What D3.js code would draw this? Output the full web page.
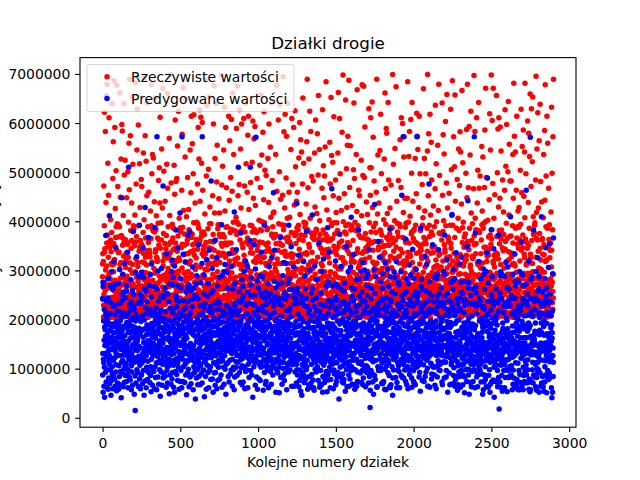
<!DOCTYPE html>
<html>
<head>
<meta charset="utf-8">
<title>Działki drogie</title>
<script src="https://cdnjs.cloudflare.com/ajax/libs/d3/7.8.5/d3.min.js"></script>
<style>
  body { margin: 0; background: #fff; }
  text { font-family: "DejaVu Sans", sans-serif; fill: #000; }
</style>
</head>
<body>
<script>
// prices in tens of thousands of zł, one entry per plot (index = plot number)
var actual = [
287,313,334,241,266,318,205,229,472,251,203,391,622,337,276,344,218,259,583,226,301,207,438,269,655,
224,309,356,211,679,243,372,285,202,518,231,264,327,348,453,209,292,611,236,271,215,358,347,222,283,
233,362,403,217,296,338,314,245,204,377,268,228,639,352,311,219,487,274,240,562,206,297,355,231,686,
258,314,322,247,591,280,235,426,210,269,367,222,503,389,243,342,201,677,254,230,395,216,261,471,368,
245,393,208,336,275,225,337,260,219,389,302,238,661,312,284,449,229,254,316,527,203,371,270,242,597,
212,367,584,233,351,291,205,248,412,273,226,329,639,357,218,494,239,284,363,211,524,246,306,223,362,
276,321,335,260,209,448,288,242,326,231,353,271,214,501,356,327,237,398,282,206,559,249,464,227,689,
239,302,315,268,574,226,381,251,208,345,279,232,437,361,217,653,294,244,312,220,516,272,205,379,391,
221,384,357,237,203,350,266,214,413,249,297,229,682,358,324,211,476,243,286,369,234,545,207,265,628,
264,316,308,278,235,596,241,391,256,220,339,270,203,517,347,285,428,228,361,259,212,343,292,238,485,
205,353,471,231,289,212,317,268,243,348,221,377,296,539,334,262,209,403,281,226,692,315,250,218,574,
248,327,366,295,210,522,256,238,311,273,452,216,641,340,283,227,389,204,332,264,357,231,459,257,213,
293,341,207,334,262,328,219,276,421,232,248,365,209,678,391,255,226,497,317,243,215,536,280,384,239,
218,380,529,249,233,304,267,211,440,256,378,225,294,651,337,263,342,208,383,272,221,411,248,327,204,
271,323,318,209,366,257,241,396,275,229,483,214,351,362,238,509,288,202,437,253,612,226,345,279,232,
236,397,214,362,252,547,227,283,205,427,266,240,671,319,309,258,234,375,211,502,290,245,333,262,328,
209,355,441,286,231,329,216,344,264,243,371,208,278,516,325,295,253,660,239,467,218,304,389,270,213,
283,330,353,205,569,267,246,412,212,291,336,236,699,358,222,283,478,241,319,207,358,275,250,394,226,
227,312,366,249,342,215,386,293,233,207,514,269,344,320,455,245,281,606,212,356,253,238,481,296,263,
256,318,487,273,236,339,204,553,261,228,370,289,213,624,347,299,325,219,406,268,232,320,241,379,210,
244,387,213,379,258,224,346,271,239,463,210,305,577,353,226,388,282,205,672,237,264,422,217,332,295,
215,351,374,230,293,207,531,266,242,317,220,649,278,334,409,201,286,354,257,228,362,247,489,222,270,
298,334,206,424,260,222,383,248,313,211,379,284,240,545,319,266,338,227,458,292,204,614,255,367,231,
232,374,558,217,245,352,288,210,497,263,226,397,617,341,219,331,276,208,354,251,437,229,302,270,214,
267,311,325,246,363,233,398,279,216,252,476,238,343,394,207,591,260,222,386,244,527,285,213,354,627,
211,362,441,236,283,307,224,612,255,240,369,209,518,377,231,334,601,247,219,463,290,256,207,378,342,
250,329,349,268,205,373,241,285,415,218,302,262,687,334,253,357,225,492,271,204,636,246,320,280,237,
228,301,312,385,257,239,506,274,226,346,217,653,263,395,239,429,208,359,252,314,282,221,395,241,214,
281,344,313,220,267,328,235,209,452,292,249,373,204,598,358,236,676,227,341,271,218,417,256,528,230,
239,317,362,286,229,640,253,312,206,480,265,234,555,321,297,249,385,214,393,277,243,336,208,446,262,
206,373,417,245,316,262,226,369,238,393,281,213,331,355,697,230,268,474,216,349,289,240,512,224,373,
262,335,297,208,545,272,249,368,221,632,284,228,421,356,203,327,591,243,276,388,231,205,468,267,352,
247,389,215,333,266,203,302,239,278,356,224,614,252,311,443,293,237,319,564,259,218,377,284,233,489,
219,356,384,231,607,247,295,212,461,270,226,342,661,335,283,209,398,257,536,222,311,271,244,381,253,
274,322,337,265,214,319,286,239,408,227,256,589,205,373,398,248,217,675,262,325,231,452,276,210,394,
233,378,201,475,249,312,627,260,218,362,289,235,547,312,263,427,241,303,204,598,271,226,354,253,383,
290,312,346,238,274,223,389,256,609,207,331,283,247,472,320,265,378,234,641,251,216,309,287,517,244,
225,358,313,283,201,459,242,366,220,575,269,238,301,614,353,211,424,279,230,358,355,247,288,204,392,
257,336,479,219,297,346,228,351,263,210,391,245,520,378,231,335,204,604,257,282,447,223,318,266,568,
208,384,361,251,229,593,270,214,432,242,316,262,689,325,248,377,291,236,487,207,341,259,350,228,276,
269,326,287,212,329,255,402,237,273,209,358,514,244,383,216,469,232,317,657,264,241,381,206,292,535,
242,399,224,357,263,218,581,234,327,282,207,444,254,623,327,269,397,213,295,504,246,338,223,271,314,
216,352,493,277,235,310,260,209,383,244,386,291,222,528,356,236,345,211,438,283,598,249,307,265,230,
284,339,318,223,551,267,215,408,249,295,235,641,205,374,371,226,483,258,332,213,389,242,417,287,203,
231,366,419,256,202,368,282,247,312,219,303,262,238,536,373,210,354,297,677,228,251,461,220,323,276,
253,314,277,341,247,606,225,289,395,233,268,209,501,356,242,637,281,217,369,235,445,262,352,209,314,
209,393,337,236,276,227,351,211,453,264,249,694,220,315,383,238,582,205,392,270,257,427,226,339,618,
278,330,366,254,218,488,271,242,573,206,329,286,222,406,359,640,233,302,247,368,212,331,293,238,459,
235,359,204,408,283,245,356,227,314,261,213,546,272,334,377,249,218,609,288,326,241,475,207,296,264,
261,315,332,269,591,238,296,220,433,252,207,371,625,376,241,289,511,226,355,213,373,266,441,234,303,
224,387,459,241,211,318,257,383,230,276,392,218,529,363,247,343,205,601,281,236,414,254,327,219,566,
295,332,214,372,266,541,227,305,250,208,476,283,238,651,319,361,272,245,518,211,398,256,229,334,289,
246,371,388,217,302,228,396,259,242,435,204,336,277,562,333,214,689,251,295,383,223,468,265,239,311,
213,353,527,280,236,347,221,624,269,208,406,245,299,317,583,262,230,376,249,204,491,285,337,226,367,
268,319,304,247,482,232,285,210,371,254,363,227,243,539,376,216,429,292,237,317,606,258,205,384,241,
237,382,208,416,261,249,578,223,327,271,212,494,240,656,364,229,352,283,201,546,246,401,219,298,373,
282,346,361,229,205,314,268,239,343,285,252,467,217,309,627,335,273,221,382,258,513,207,289,448,232,
220,363,492,238,297,214,551,276,226,374,258,204,684,342,331,267,219,423,252,369,286,233,360,211,277,
251,327,339,272,343,218,403,244,288,209,315,561,236,361,476,223,297,248,208,652,269,391,230,534,256,
207,396,256,365,223,520,281,242,452,213,276,338,613,349,229,397,263,216,374,293,241,309,211,484,268,
289,341,418,206,269,332,231,397,255,224,381,272,216,539,347,303,662,238,285,212,447,260,356,226,609,
230,373,214,497,252,236,326,267,303,219,422,284,245,360,308,581,258,231,326,276,212,698,243,399,269,
265,318,347,283,206,456,240,378,262,229,315,251,213,647,391,238,374,221,507,269,247,428,207,341,555,
241,357,573,229,278,217,394,265,233,687,209,334,288,351,469,224,302,269,554,213,246,382,283,237,317,
214,391,326,246,387,272,223,432,259,208,361,296,237,505,318,274,641,252,229,317,487,205,263,398,244,
279,334,206,381,263,224,536,248,291,216,420,275,668,336,212,344,259,283,391,227,305,251,463,220,372,
255,310,452,268,241,309,232,317,277,205,367,248,286,524,321,264,411,244,210,678,289,335,258,229,493,
227,366,338,219,675,254,283,209,489,237,316,262,592,323,245,375,271,205,346,292,232,439,256,218,364,
292,339,225,414,257,363,212,298,351,236,271,204,629,361,244,397,218,327,283,509,230,266,453,212,611,
236,378,509,245,214,356,269,229,643,252,206,428,287,317,341,571,223,264,389,208,297,482,255,234,359,
260,313,312,289,237,396,224,377,250,211,459,268,240,689,315,301,276,226,415,259,535,248,209,342,282,
217,348,437,263,226,327,296,207,544,241,382,254,221,618,379,235,359,213,497,266,243,372,228,304,271,
285,331,210,348,274,321,246,263,403,229,212,527,289,350,336,204,661,272,238,466,219,394,257,311,589,
249,367,579,218,296,239,416,206,351,277,243,642,226,362,484,213,319,288,351,234,208,374,264,427,230,
211,388,329,255,232,474,271,224,305,249,305,213,387,366,239,699,220,282,356,247,516,209,339,273,258,
273,324,257,401,240,548,218,291,362,233,262,206,674,347,325,279,216,441,253,396,228,289,378,242,212,
232,369,483,237,207,315,281,250,329,216,394,262,235,566,389,223,343,258,208,469,275,611,230,301,264,
258,315,336,274,599,226,367,240,206,418,285,252,531,319,572,263,234,309,211,447,294,245,388,270,357,
203,396,268,362,249,317,230,276,212,447,259,327,684,337,281,221,398,255,202,532,272,244,356,217,583,
267,336,410,221,286,329,213,607,262,245,374,209,498,378,231,642,253,316,270,225,441,296,241,365,226,
244,381,219,384,265,223,359,247,304,233,528,272,214,392,357,281,211,456,240,335,620,264,227,573,290,
225,354,546,239,291,208,352,267,428,215,250,614,283,337,313,206,497,260,229,381,276,346,218,341,252,
286,328,324,271,210,475,249,392,235,263,407,220,296,670,354,211,367,243,280,528,231,255,421,206,307,
238,363,213,497,246,354,272,227,325,258,211,386,285,339,543,699,221,318,267,452,249,211,578,290,234,
219,392,369,230,258,618,241,287,203,413,265,335,232,561,378,217,484,253,227,347,296,246,372,214,269,
271,336,431,253,215,306,277,232,389,222,348,261,245,466,308,636,289,254,321,239,517,212,399,262,281,
249,310,285,341,264,555,229,298,218,422,270,246,679,331,376,257,206,493,283,240,334,265,304,219,252,
206,374,307,245,288,227,362,211,641,262,236,453,251,319,379,576,214,244,401,226,289,537,258,352,233,
280,343,337,261,219,603,235,391,270,252,214,478,293,326,658,247,305,209,427,274,238,368,218,365,263,
234,359,212,457,281,246,328,222,311,266,207,392,240,628,355,283,345,217,505,231,269,412,296,248,686,
262,319,392,236,297,268,214,572,251,229,335,284,242,511,307,367,657,265,221,441,257,302,236,313,278,
218,386,247,328,209,485,263,240,318,275,226,406,254,311,547,292,233,381,268,249,473,215,329,582,244,
293,332,541,254,238,311,279,205,435,246,268,666,222,357,387,236,519,210,264,398,242,309,279,226,347,
247,368,317,213,352,259,228,374,292,241,209,498,266,321,331,587,276,217,448,255,239,679,286,359,212,
213,351,468,277,233,342,218,593,263,289,386,224,250,535,306,311,274,243,624,229,417,261,298,237,361,
275,329,208,395,255,324,281,244,327,212,466,259,233,697,370,218,352,291,246,583,224,406,265,213,334,
240,383,355,222,264,611,235,271,219,437,248,316,287,504,312,264,381,229,642,256,291,467,238,205,377,
258,314,492,268,241,305,226,334,251,210,362,277,234,552,393,243,421,219,315,267,531,208,284,386,241,
224,396,261,347,209,469,284,235,586,255,228,399,210,671,347,272,337,223,489,262,236,318,279,329,253,
287,337,402,216,275,331,249,368,229,262,211,444,283,344,619,235,296,372,213,545,268,226,353,257,698,
231,364,219,383,250,605,238,290,223,477,257,318,671,314,281,245,406,228,331,266,307,210,454,285,239,
263,326,326,248,213,336,271,241,656,219,369,294,253,499,333,268,204,588,247,323,275,429,221,611,256,
216,381,354,261,237,447,226,592,279,250,312,207,543,364,229,382,293,241,374,218,346,256,484,234,271,
252,340,207,419,266,373,233,305,251,218,463,286,227,627,343,359,275,212,512,259,234,396,268,597,289,
277,319,365,236,292,226,501,257,214,644,271,338,245,413,322,557,282,239,369,208,482,263,292,227,336,
239,370,482,252,205,328,264,229,312,287,243,391,218,536,356,276,447,233,204,681,261,314,247,573,225,
265,333,309,277,541,220,386,259,241,205,463,296,228,614,366,251,353,217,389,282,236,421,254,209,345,
208,388,231,428,261,236,363,247,319,273,215,504,242,394,356,227,628,289,341,214,458,269,233,552,283,
284,346,372,221,267,586,239,294,209,451,255,333,268,541,326,407,681,245,218,364,290,256,497,237,311,
228,357,314,243,279,218,345,266,604,233,294,210,438,351,275,579,223,262,386,211,532,287,248,316,659,
254,325,333,286,207,471,245,629,263,221,361,276,239,521,314,297,653,252,230,409,268,373,244,297,217,
220,376,256,392,242,397,231,283,217,484,253,327,695,366,234,418,285,209,547,272,241,362,258,621,236,
283,339,427,213,271,305,251,564,224,263,375,212,292,638,345,228,481,269,321,237,302,255,214,439,278,
243,362,205,365,255,333,229,284,246,407,211,536,273,352,332,296,213,585,259,443,226,678,263,318,247,
215,389,492,234,266,321,218,614,271,242,386,205,559,387,236,347,254,225,467,212,363,279,247,393,260,
272,326,341,259,237,356,283,212,419,249,268,307,632,341,215,498,276,234,383,257,221,572,292,244,689
];
var predicted = [
243,87,131,276,52,268,119,197,112,64,158,221,103,42,185,147,131,179,92,166,209,371,128,73,238,
189,214,62,157,146,203,98,132,171,124,244,58,194,283,137,81,116,162,109,411,126,69,152,191,178,
97,212,268,234,46,139,183,76,297,121,155,164,104,89,142,261,59,191,227,116,173,84,318,149,138,
228,155,79,186,122,271,64,209,141,347,93,174,132,108,196,55,154,163,127,187,217,71,149,193,182,
232,164,273,58,217,106,189,145,84,151,302,127,67,233,169,198,94,176,139,206,41,162,113,448,251,
176,91,238,145,117,292,183,63,214,128,156,157,99,256,187,72,129,136,167,314,105,86,111,244,153,
206,137,102,269,258,74,194,147,129,88,182,337,125,61,211,174,156,96,510,191,118,140,83,173,229,
218,133,161,77,198,141,281,109,175,236,57,106,187,131,93,124,164,259,66,148,203,379,115,184,147,
251,174,227,221,48,185,113,162,152,85,15,197,138,295,211,71,166,122,143,179,328,98,154,116,137,
159,92,173,234,203,167,63,125,118,287,182,145,392,79,113,107,251,171,142,59,233,196,124,118,88,
87,296,247,242,112,179,178,69,208,131,345,164,96,119,286,153,117,46,199,137,142,262,75,181,428,
224,142,181,97,258,126,61,213,169,102,103,189,236,149,78,171,157,115,211,184,367,92,133,145,175,
269,153,216,188,72,221,154,291,138,86,104,172,53,246,119,313,192,101,163,134,179,66,147,208,127,
213,187,129,151,267,94,176,133,215,59,148,143,387,104,198,162,82,169,127,224,175,138,112,57,193,
572,262,207,141,178,124,83,299,193,146,237,68,186,112,132,211,157,98,152,171,116,44,203,184,144,
248,219,93,168,304,139,201,118,66,157,183,109,129,152,472,81,196,245,126,173,89,178,114,137,162,
201,128,264,85,253,216,177,111,191,62,189,143,334,106,96,162,131,119,71,187,252,141,159,164,105,
236,142,174,119,49,198,138,273,161,223,87,179,112,153,144,68,116,186,298,129,157,321,79,132,191,
92,271,213,147,286,107,184,62,141,131,197,163,52,309,223,118,171,174,94,142,206,382,154,115,248,
155,239,88,226,163,121,345,192,76,112,151,268,103,179,237,135,188,58,167,201,121,182,126,417,74,
283,214,147,172,96,264,153,209,131,61,182,572,186,128,119,147,74,238,172,333,104,194,156,161,137,
221,208,158,72,136,181,109,317,147,224,87,169,256,131,199,47,116,162,182,114,236,91,185,371,145,
237,264,99,193,128,271,63,207,176,142,378,118,143,83,182,214,151,197,136,69,259,174,121,127,189,
172,88,226,241,307,117,192,136,57,169,263,147,104,119,124,179,92,248,137,101,166,112,38,179,194,
246,117,273,249,81,156,289,128,203,98,184,131,67,167,242,118,352,196,153,84,112,176,141,188,105,
209,131,67,185,228,162,107,275,149,191,89,136,178,123,314,71,572,213,157,154,132,96,198,167,197,
97,252,291,224,167,43,114,182,232,114,196,152,84,203,171,162,139,58,188,322,121,128,159,107,143,
188,247,139,92,273,158,126,196,61,218,143,341,177,146,97,189,136,171,104,163,227,78,154,482,122,
254,168,213,217,142,304,79,185,129,259,197,52,133,148,173,112,186,202,91,141,168,133,361,187,66,
233,92,198,168,151,126,221,174,108,326,59,187,148,114,269,132,76,199,156,237,103,196,179,143,117,
221,286,143,79,232,192,171,114,164,206,134,148,87,178,153,393,122,127,62,289,159,195,116,144,168,
217,141,174,208,103,156,68,297,183,142,126,169,312,99,211,137,156,184,48,163,228,109,176,147,193,
296,228,263,149,187,136,112,173,84,151,157,201,138,179,73,222,164,334,191,117,146,89,154,213,139,
164,218,97,182,308,131,207,151,144,64,188,119,262,171,137,197,98,103,143,232,177,57,419,158,151,
83,273,227,216,158,274,193,136,114,103,342,181,147,128,86,163,167,127,209,178,113,153,154,510,195,
238,154,186,257,127,92,219,164,189,141,192,72,235,118,376,197,152,143,102,172,281,134,67,106,162,
242,267,121,206,73,179,248,102,163,127,124,298,182,146,104,59,141,168,132,319,94,189,228,153,173,
184,97,232,163,212,141,308,172,125,61,256,193,109,121,161,184,137,82,198,233,144,173,361,118,115,
510,203,248,96,271,285,133,126,158,87,143,136,179,164,117,198,42,231,153,196,124,214,171,104,352,
162,229,187,138,249,112,174,66,303,192,157,571,118,126,141,83,169,207,139,279,186,58,136,148,197,
219,148,264,204,163,79,222,147,191,146,108,181,289,152,76,113,128,254,167,103,337,194,143,129,178,
247,191,106,172,227,138,287,162,56,216,141,163,184,119,174,392,92,197,131,157,116,244,178,68,105,
256,74,214,231,182,166,113,198,233,148,187,97,122,152,273,131,104,61,247,164,309,128,191,117,137,
203,163,137,253,94,172,209,121,186,167,68,238,141,326,184,103,158,176,148,112,87,183,236,144,458,
227,132,278,102,214,152,341,186,135,247,112,197,161,264,52,119,149,181,133,201,173,96,141,163,118,
166,244,91,189,236,173,118,272,154,103,128,51,231,177,143,196,112,188,367,114,139,82,208,167,146,
274,207,158,229,68,137,194,243,101,171,289,142,113,86,184,127,156,316,123,76,254,181,146,136,193,
91,163,241,147,193,314,127,176,218,57,102,156,248,132,199,109,274,167,127,144,93,186,392,112,138,
218,127,282,261,142,97,223,191,134,176,162,206,119,348,173,139,64,151,108,126,261,188,113,174,141,
151,246,109,173,307,188,149,64,232,117,183,257,146,93,119,168,185,131,196,243,152,71,127,109,436,
98,232,127,87,264,254,173,118,212,146,331,186,63,139,157,201,126,76,168,97,123,142,189,161,54,
236,171,159,203,121,83,46,247,138,92,176,109,107,167,233,88,196,152,318,124,181,136,72,113,165,
227,103,288,142,262,79,114,171,131,243,98,379,157,104,139,83,117,193,226,58,172,149,136,183,67,
212,186,143,164,132,219,301,147,84,197,134,161,127,62,182,71,208,143,254,109,88,137,124,413,154,
263,239,128,77,208,152,184,61,118,173,56,226,196,144,309,167,132,99,176,113,138,282,162,121,93,
244,218,197,132,163,281,104,159,96,137,187,148,76,204,128,171,356,148,139,193,117,62,217,154,68,
231,208,254,96,141,178,126,113,67,298,142,186,131,118,167,52,147,84,202,136,323,174,107,228,82,
206,147,72,183,113,229,159,86,148,171,124,203,152,267,94,184,119,129,53,141,162,193,387,139,77,
88,276,212,238,154,121,192,337,162,224,103,147,178,136,61,113,144,78,188,119,157,238,173,96,466,
233,162,109,191,148,268,173,204,122,59,131,186,141,97,164,207,89,152,133,182,224,112,168,319,67,
272,246,137,219,74,164,239,112,83,156,197,128,212,92,178,143,153,131,266,196,38,121,147,374,88,
227,191,156,103,213,168,136,308,177,82,128,153,261,142,199,117,234,73,144,89,106,201,158,147,71,
214,134,78,236,257,193,274,129,166,219,143,54,143,187,123,112,348,162,98,227,178,136,63,194,151,
156,223,187,149,297,106,172,231,87,203,64,138,181,114,152,167,79,219,146,191,307,126,96,169,408,
241,104,264,212,131,247,68,184,151,126,178,117,332,196,146,238,99,173,67,131,262,187,58,118,153,
97,158,196,227,183,142,281,216,119,64,136,168,204,152,74,93,188,144,228,171,113,382,157,111,139,
283,247,229,172,112,204,157,143,91,189,131,298,166,127,72,114,137,256,181,108,96,239,149,316,67,
236,212,81,193,158,127,176,219,143,301,188,102,237,154,97,121,63,148,173,284,139,106,161,92,129,
227,268,137,249,103,181,292,149,213,71,166,132,126,191,342,157,84,121,176,133,21,56,198,119,87,
159,96,216,242,187,263,121,174,132,138,204,89,73,162,114,223,178,48,199,141,149,302,131,86,434,
204,253,148,78,221,167,134,287,193,117,146,176,151,212,62,197,63,139,168,231,104,185,359,147,96,
221,187,234,166,143,209,98,156,128,182,327,143,119,96,277,164,101,131,242,153,186,71,111,69,174,
263,239,293,118,71,152,222,74,187,139,116,168,206,147,58,183,99,316,142,194,229,127,57,148,171,
244,217,106,148,176,131,199,163,303,92,118,189,141,267,112,227,157,203,86,174,63,198,137,384,61,
287,158,241,193,67,236,147,211,128,256,173,104,133,162,199,46,81,136,218,154,119,97,182,143,297,
207,126,169,137,286,118,193,252,161,213,82,178,127,124,318,191,146,61,72,209,158,136,173,112,97,
232,276,228,106,153,271,94,183,221,143,61,147,169,196,112,139,177,134,297,118,152,86,226,161,453,
248,203,82,169,238,132,192,119,572,126,157,81,108,174,213,137,253,162,97,187,143,129,364,206,74,
219,117,256,283,146,213,67,154,98,231,186,127,104,168,59,149,193,141,273,116,176,229,143,311,88,
163,241,147,98,202,178,124,291,168,116,142,233,81,197,62,152,118,227,184,343,133,107,163,249,74,
96,284,228,157,71,212,206,162,141,136,189,67,257,171,113,129,302,148,126,193,103,236,572,182,154,
246,139,173,213,121,254,189,107,124,167,83,143,196,232,92,178,146,161,54,113,137,386,197,124,267,
282,223,216,192,143,158,76,137,142,202,129,261,176,108,229,153,194,74,121,168,147,146,213,329,84,
234,171,258,139,208,93,182,129,164,312,117,186,143,152,101,64,238,172,138,64,191,123,219,157,476,
213,254,147,277,62,221,152,164,128,197,136,111,183,217,147,79,168,89,248,133,106,176,352,192,141,
162,218,236,103,142,286,168,193,87,144,172,131,66,158,104,221,183,139,146,197,59,127,161,284,213,
238,292,83,157,226,131,249,116,107,173,342,148,114,97,188,253,137,172,128,163,96,109,186,142,234,
204,136,181,264,134,196,158,73,228,143,67,182,126,203,147,164,113,298,179,114,146,234,81,372,167,
291,248,223,127,182,147,113,209,161,83,96,124,168,142,321,196,131,127,186,52,253,172,137,219,158,
152,207,164,238,91,171,216,143,67,184,122,139,157,194,68,276,142,108,164,113,234,189,414,151,146,
226,133,261,278,153,302,127,86,219,102,71,146,139,283,208,64,118,127,192,147,78,163,174,336,138,
217,84,197,128,243,168,114,56,232,151,106,129,67,176,148,141,93,199,223,156,313,84,132,152,169,
243,62,109,218,276,136,256,96,142,327,184,107,121,163,253,123,87,67,239,172,108,144,181,119,193,
178,214,51,83,229,192,128,241,167,277,114,98,136,149,183,162,141,74,348,176,99,128,157,196,442,
232,149,87,264,276,117,203,48,98,233,174,116,137,191,158,72,249,187,131,109,167,63,121,138,182,
207,94,231,142,191,262,151,74,119,108,187,163,234,124,98,572,179,146,144,61,113,152,376,188,137,
266,227,138,254,117,83,212,157,144,91,136,63,168,171,109,129,231,88,143,318,162,101,126,197,156,
244,158,96,109,238,147,283,122,73,116,158,137,89,202,163,174,114,191,226,48,184,144,131,57,303,
226,292,153,73,146,221,87,197,261,133,104,78,116,149,187,142,298,63,207,124,336,176,131,152,488,
197,237,211,141,62,118,274,153,86,128,143,164,171,98,237,191,52,113,68,156,182,127,219,164,383,
251,246,73,128,203,287,142,118,74,192,148,134,77,229,118,344,161,103,42,171,113,194,237,178,106,
232,74,118,199,262,153,208,131,141,73,107,126,189,147,96,63,234,168,153,139,82,217,372,126,161,
18,216,242,136,73,254,119,289,124,62,297,138,107,152,172,113,86,243,127,119,54,176,162,193,148,
182,227,161,58,214,96,143,177,134,288,61,108,149,233,82,117,151,171,316,147,203,98,138,163,118,
264,198,53,227,118,181,307,146,96,237,167,82,119,143,261,84,132,172,159,104,228,126,83,409,153,
243,132,87,106,249,163,211,136,173,57,123,187,126,292,68,97,136,212,148,81,157,138,334,174,126,
217,61,243,278,139,268,112,204,69,131,64,193,147,153,78,182,134,219,166,143,111,201,57,278,186,
228,153,96,142,213,176,298,57,88,136,182,142,163,219,72,121,147,187,358,143,229,64,196,132,152,
291,243,126,269,57,103,234,86,147,163,207,129,181,74,238,152,93,116,189,163,138,272,71,108,463,
236,87,132,208,163,252,141,176,98,118,227,72,146,137,193,319,58,131,182,79,143,164,211,53,188,
571,212,57,243,282,128,166,149,216,73,287,136,131,98,154,148,113,206,71,163,147,382,87,129,162,
158,169,83,237,221,176,151,109,193,244,63,112,134,297,172,127,56,82,239,101,148,257,92,326,113,
214,146,238,97,123,262,287,52,131,169,204,178,142,91,146,118,213,64,152,137,193,231,409,71,136,
173,227,142,256,84,211,136,193,63,147,117,186,229,54,168,197,142,237,73,104,283,152,116,87,346,
247,263,208,127,264,51,129,192,138,171,83,214,96,148,167,232,143,306,78,119,156,163,91,137,354,
237,114,252,82,147,236,172,183,119,207,156,61,127,189,41,162,173,218,52,293,126,142,84,113,366
];
var UNIT = 10000;
var seriesNames = ["Rzeczywiste wartości", "Predygowane wartości"];
var seriesColors = ["#ff0000", "#0000ff"];
var xTicks = [0, 500, 1000, 1500, 2000, 2500, 3000];
var yTicks = [0, 1000000, 2000000, 3000000, 4000000, 5000000, 6000000, 7000000];

var W = 640, H = 480;
// axes box (matplotlib default subplot position)
var axL = 80, axR = 576, axT = 57.6, axB = 427.2;

var svg = d3.select("body").append("svg")
    .attr("width", W)
    .attr("height", H)
    .style("display", "block");
svg.append("rect").attr("width", W).attr("height", H).attr("fill", "#fff");

var series = [actual, predicted].map(function(vals, k) {
  return vals.map(function(v, i) { return {x: i, y: v * UNIT, k: k}; });
});
var all = series[0].concat(series[1]);

// matplotlib-style 5% margins
function padded(ext) {
  var d = (ext[1] - ext[0]) * 0.05;
  return [ext[0] - d, ext[1] + d];
}
var x = d3.scaleLinear()
    .domain(padded(d3.extent(all, function(d) { return d.x; })))
    .range([axL, axR]);
var y = d3.scaleLinear()
    .domain(padded(d3.extent(all, function(d) { return d.y; })))
    .range([axB, axT]);

svg.append("clipPath").attr("id", "plot-area")
  .append("rect")
    .attr("x", axL).attr("y", axT)
    .attr("width", axR - axL).attr("height", axB - axT);

var dots = svg.append("g").attr("clip-path", "url(#plot-area)");
series.forEach(function(pts, k) {
  dots.append("g")
    .attr("fill", seriesColors[k])
    .selectAll("circle")
    .data(pts)
    .enter().append("circle")
      .attr("cx", function(d) { return x(d.x); })
      .attr("cy", function(d) { return y(d.y); })
      .attr("r", 2.75);
});

var fmt = d3.format("d");
var xAxis = svg.append("g")
    .attr("transform", "translate(0," + axB + ")")
    .call(d3.axisBottom(x).tickValues(xTicks).tickFormat(fmt).tickSize(4.86).tickPadding(4.86));
var yAxis = svg.append("g")
    .attr("transform", "translate(" + axL + ",0)")
    .call(d3.axisLeft(y).tickValues(yTicks).tickFormat(fmt).tickSize(4.86).tickPadding(4.86));

[xAxis, yAxis].forEach(function(g) {
  g.select(".domain").remove();
  g.selectAll(".tick line").attr("stroke", "#000").attr("stroke-width", 1.1);
  g.selectAll(".tick text")
    .attr("fill", "#000")
    .style("font-family", "'DejaVu Sans', sans-serif")
    .style("font-size", "13.9px");
});
xAxis.selectAll(".tick text").attr("dy", "0.79em");
yAxis.selectAll(".tick text").attr("dy", "0.36em");

svg.append("rect")
    .attr("x", axL).attr("y", axT)
    .attr("width", axR - axL).attr("height", axB - axT)
    .attr("fill", "none")
    .attr("stroke", "#000")
    .attr("stroke-width", 1.1);

svg.append("text")
    .attr("x", (axL + axR) / 2)
    .attr("y", 49.3)
    .attr("text-anchor", "middle")
    .style("font-size", "16.7px")
    .text("Działki drogie");

svg.append("text")
    .attr("x", (axL + axR) / 2)
    .attr("y", 467)
    .attr("text-anchor", "middle")
    .style("font-size", "13.9px")
    .text("Kolejne numery działek");

// y label sits almost entirely outside the figure, as in the original
svg.append("text")
    .attr("transform", "translate(-1.4," + ((axT + axB) / 2) + ") rotate(-90)")
    .attr("text-anchor", "middle")
    .style("font-size", "13.9px")
    .text("Ceny działek [zł]");

var legend = svg.append("g");
legend.append("rect")
    .attr("x", 87).attr("y", 64.5)
    .attr("width", 207).attr("height", 47)
    .attr("rx", 2.8)
    .attr("fill", "#fff").attr("fill-opacity", 0.8)
    .attr("stroke", "#ccc").attr("stroke-opacity", 0.8);
seriesNames.forEach(function(name, k) {
  var cy = 76.8 + k * 21.6;
  legend.append("circle")
      .attr("cx", 107).attr("cy", cy).attr("r", 2.75)
      .attr("fill", seriesColors[k]);
  legend.append("text")
      .attr("x", 131).attr("y", cy + 5.2)
      .style("font-size", "13.9px")
      .text(name);
});
</script>
</body>
</html>
